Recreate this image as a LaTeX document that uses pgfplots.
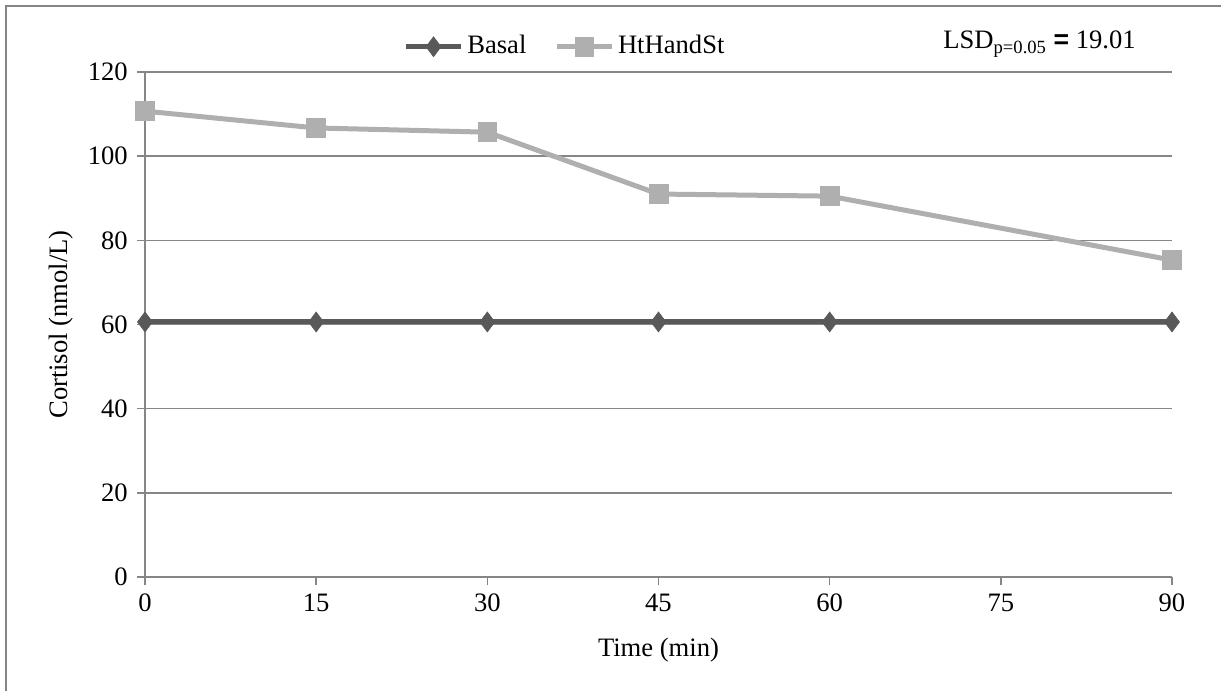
\documentclass[border=0pt]{standalone}
\usepackage{pgfplots}
\pgfplotsset{compat=1.18}
\usepackage{fontspec}
\setmainfont{Liberation Serif}
\newfontfamily\eqfont{Liberation Sans}
\definecolor{axgray}{RGB}{134,134,134}
\definecolor{basal}{RGB}{89,89,89}
\definecolor{htst}{RGB}{175,175,175}
\begin{document}
\fontsize{13.3}{15}\selectfont
\begin{tikzpicture}
\useasboundingbox (0,0) rectangle (610.5pt,345.5pt);
\draw[axgray, line width=1pt] (3pt,0) -- (3pt,342.5pt) -- (610.5pt,342.5pt);
\begin{axis}[
  at={(72.5pt,57pt)}, anchor=south west,
  scale only axis, width=513.5pt, height=252.5pt,
  xmin=0, xmax=90, ymin=0, ymax=120,
  xtick={0,15,...,90}, ytick={0,20,...,120},
  axis x line*=bottom, axis y line*=left,
  axis line style={axgray, line width=0.8pt},
  ymajorgrids, grid style={axgray, line width=0.8pt},
  tick align=outside, major tick length=4pt,
  tick style={axgray, line width=0.8pt},
  /pgf/number format/assume math mode=true,
  ticklabel style={font=\fontsize{13.3}{15}\selectfont},
  xlabel={Time (min)}, ylabel={Cortisol (nmol/L)},
  label style={font=\fontsize{13.3}{15}\selectfont},
  every axis x label/.style={at={(axis description cs:0.5,-0.145)}, anchor=center},
  every axis y label/.style={at={(axis description cs:-0.082,0.5)}, rotate=90, anchor=center},
  clip=false,
  legend columns=2,
  legend style={draw=none, fill=none, at={(axis description cs:0.41,1.05)}, anchor=center,
    font=\fontsize{13.3}{15}\selectfont, /tikz/every even column/.append style={column sep=12pt}},
  legend image code/.code={\draw[mark repeat=2,mark phase=2] plot coordinates {(0cm,0cm)(0.48cm,0cm)(0.96cm,0cm)};},
]
\addplot[basal, line width=2.5pt, mark=diamond*, mark size=5pt, mark options={fill=basal, draw=basal, line width=0.3pt}]
  coordinates {(0,60.6)(15,60.6)(30,60.6)(45,60.6)(60,60.6)(90,60.6)};
\addlegendentry{Basal}
\addplot[htst, line width=2.5pt, mark=square*, mark size=4.7pt, mark options={fill=htst, draw=htst, line width=0.3pt}]
  coordinates {(0,110.7)(15,106.7)(30,105.7)(45,91.0)(60,90.5)(90,75.3)};
\addlegendentry{HtHandSt}
\end{axis}
\node[anchor=base west, inner sep=0pt] at (471.5pt,321pt) {LSD\textsubscript{p=0.05} {\eqfont\bfseries =} 19.01};
\end{tikzpicture}
\end{document}
